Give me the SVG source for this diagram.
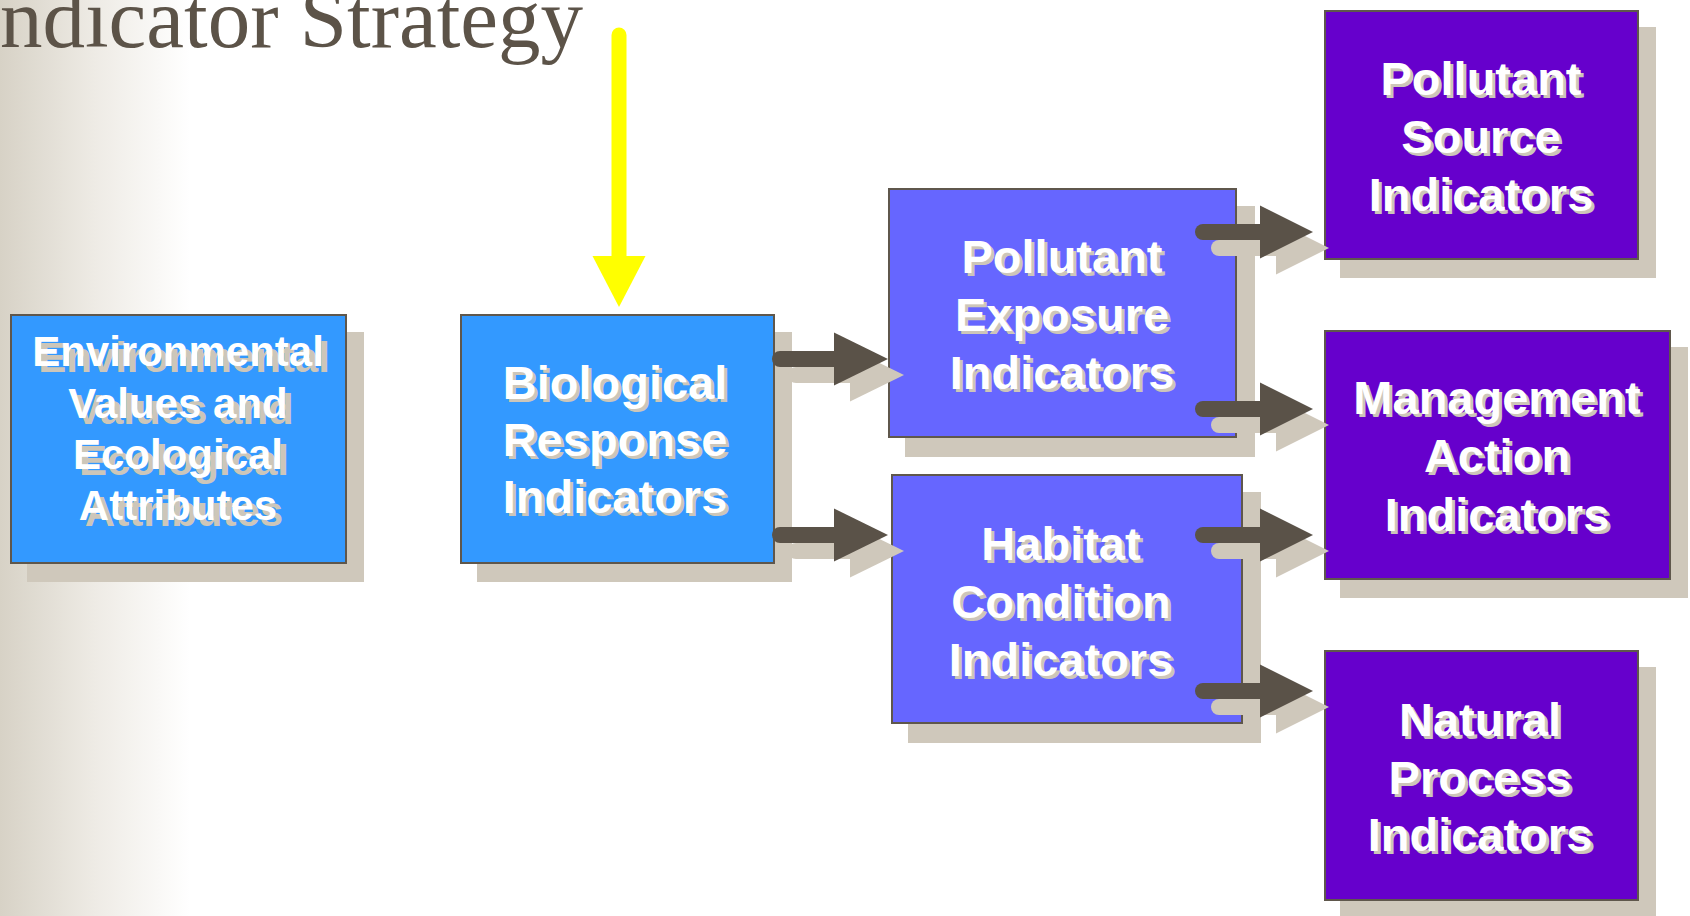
<svg xmlns="http://www.w3.org/2000/svg" width="1690" height="916" viewBox="0 0 1690 916">
  <defs>
    <linearGradient id="bg" x1="0" y1="0" x2="190" y2="0" gradientUnits="userSpaceOnUse">
      <stop offset="0" stop-color="#d7d2c6"/>
      <stop offset="0.5" stop-color="#eeebe5"/>
      <stop offset="1" stop-color="#ffffff"/>
    </linearGradient>
    <style>
      .shadow { fill: #cfc8bb; }
      .box { stroke: #5f574c; stroke-width: 2; }
      .b1 { fill: #3399ff; }
      .b2 { fill: #6666ff; }
      .b3 { fill: #6600cc; }
      .lbl { font-family: "Liberation Sans", Arial, sans-serif; font-weight: bold; font-size: 47px; text-anchor: middle; }
      .lbl.small { font-size: 42px; }
      .ts { fill: #cdc6b9; }
      .tw { fill: #ffffff; }
      .title { font-family: "Liberation Serif", "Times New Roman", serif; font-size: 85px; fill: #5c5348; }
      .aline { stroke: #5a5248; stroke-width: 16; stroke-linecap: round; fill: none; }
      .ahead { fill: #5a5248; }
      .sline { stroke: #cfc8bb; stroke-width: 16; stroke-linecap: round; fill: none; }
      .shead { fill: #cfc8bb; }
    </style>
  </defs>

  <rect x="0" y="0" width="1690" height="916" fill="#ffffff"/>
  <rect x="0" y="0" width="190" height="916" fill="url(#bg)"/>

  <text class="title" x="0" y="47">ndicator Strategy</text>

  <!-- Nodes -->
  <g id="node-env">
    <rect class="shadow" x="27" y="332" width="337" height="250"/>
    <rect class="box b1" x="11" y="315" width="335" height="248"/>
    <g class="lbl small">
      <g class="ts" transform="translate(6,6)">
        <text x="178" y="366">Environmental</text>
        <text x="178" y="418">Values and</text>
        <text x="178" y="469">Ecological</text>
        <text x="178" y="520">Attributes</text>
      </g>
      <g class="tw">
        <text x="178" y="366">Environmental</text>
        <text x="178" y="418">Values and</text>
        <text x="178" y="469">Ecological</text>
        <text x="178" y="520">Attributes</text>
      </g>
    </g>
  </g>

  <g id="node-bio">
    <rect class="shadow" x="477" y="332" width="315" height="250"/>
    <rect class="box b1" x="461" y="315" width="313" height="248"/>
    <g class="lbl">
      <g class="ts" transform="translate(3,3)">
        <text x="615" y="399">Biological</text>
        <text x="615" y="456">Response</text>
        <text x="615" y="513">Indicators</text>
      </g>
      <g class="tw">
        <text x="615" y="399">Biological</text>
        <text x="615" y="456">Response</text>
        <text x="615" y="513">Indicators</text>
      </g>
    </g>
  </g>

  <g id="node-exposure">
    <rect class="shadow" x="905" y="206" width="350" height="251"/>
    <rect class="box b2" x="889" y="189" width="347" height="248"/>
    <g class="lbl">
      <g class="ts" transform="translate(3,3)">
        <text x="1062" y="273">Pollutant</text>
        <text x="1062" y="331">Exposure</text>
        <text x="1062" y="389">Indicators</text>
      </g>
      <g class="tw">
        <text x="1062" y="273">Pollutant</text>
        <text x="1062" y="331">Exposure</text>
        <text x="1062" y="389">Indicators</text>
      </g>
    </g>
  </g>

  <g id="node-habitat">
    <rect class="shadow" x="908" y="492" width="353" height="251"/>
    <rect class="box b2" x="892" y="475" width="350" height="248"/>
    <g class="lbl">
      <g class="ts" transform="translate(3,3)">
        <text x="1061" y="560">Habitat</text>
        <text x="1061" y="618">Condition</text>
        <text x="1061" y="676">Indicators</text>
      </g>
      <g class="tw">
        <text x="1061" y="560">Habitat</text>
        <text x="1061" y="618">Condition</text>
        <text x="1061" y="676">Indicators</text>
      </g>
    </g>
  </g>

  <g id="node-source">
    <rect class="shadow" x="1340" y="27" width="316" height="251"/>
    <rect class="box b3" x="1325" y="11" width="313" height="248"/>
    <g class="lbl">
      <g class="ts" transform="translate(3,3)">
        <text x="1481" y="95">Pollutant</text>
        <text x="1481" y="153">Source</text>
        <text x="1481" y="211">Indicators</text>
      </g>
      <g class="tw">
        <text x="1481" y="95">Pollutant</text>
        <text x="1481" y="153">Source</text>
        <text x="1481" y="211">Indicators</text>
      </g>
    </g>
  </g>

  <g id="node-management">
    <rect class="shadow" x="1340" y="347" width="348" height="251"/>
    <rect class="box b3" x="1325" y="331" width="345" height="248"/>
    <g class="lbl">
      <g class="ts" transform="translate(3,3)">
        <text x="1497" y="414">Management</text>
        <text x="1497" y="472">Action</text>
        <text x="1497" y="531">Indicators</text>
      </g>
      <g class="tw">
        <text x="1497" y="414">Management</text>
        <text x="1497" y="472">Action</text>
        <text x="1497" y="531">Indicators</text>
      </g>
    </g>
  </g>

  <g id="node-natural">
    <rect class="shadow" x="1340" y="667" width="316" height="252"/>
    <rect class="box b3" x="1325" y="651" width="313" height="249"/>
    <g class="lbl">
      <g class="ts" transform="translate(3,3)">
        <text x="1480" y="736">Natural</text>
        <text x="1480" y="794">Process</text>
        <text x="1480" y="851">Indicators</text>
      </g>
      <g class="tw">
        <text x="1480" y="736">Natural</text>
        <text x="1480" y="794">Process</text>
        <text x="1480" y="851">Indicators</text>
      </g>
    </g>
  </g>

  <!-- Connectors -->
  <g id="connectors">
    <g id="connector-shadows" transform="translate(16,16)">
      <line class="sline" x1="780" y1="359" x2="838" y2="359"/>
      <polygon class="shead" points="834,332.5 888,359 834,385.5"/>
      <line class="sline" x1="780" y1="535" x2="838" y2="535"/>
      <polygon class="shead" points="834,508.5 888,535 834,561.5"/>
      <line class="sline" x1="1203" y1="232" x2="1264" y2="232"/>
      <polygon class="shead" points="1260,205.5 1313,232 1260,258.5"/>
      <line class="sline" x1="1203" y1="409" x2="1264" y2="409"/>
      <polygon class="shead" points="1260,382.5 1313,409 1260,435.5"/>
      <line class="sline" x1="1203" y1="535" x2="1264" y2="535"/>
      <polygon class="shead" points="1260,508.5 1313,535 1260,561.5"/>
      <line class="sline" x1="1203" y1="691" x2="1264" y2="691"/>
      <polygon class="shead" points="1260,664.5 1313,691 1260,717.5"/>
    </g>
    <g id="bio-to-exposure">
      <line class="aline" x1="780" y1="359" x2="838" y2="359"/>
      <polygon class="ahead" points="834,332.5 888,359 834,385.5"/>
    </g>
    <g id="bio-to-habitat">
      <line class="aline" x1="780" y1="535" x2="838" y2="535"/>
      <polygon class="ahead" points="834,508.5 888,535 834,561.5"/>
    </g>
    <g id="exposure-to-source">
      <line class="aline" x1="1203" y1="232" x2="1264" y2="232"/>
      <polygon class="ahead" points="1260,205.5 1313,232 1260,258.5"/>
    </g>
    <g id="exposure-to-management">
      <line class="aline" x1="1203" y1="409" x2="1264" y2="409"/>
      <polygon class="ahead" points="1260,382.5 1313,409 1260,435.5"/>
    </g>
    <g id="habitat-to-management">
      <line class="aline" x1="1203" y1="535" x2="1264" y2="535"/>
      <polygon class="ahead" points="1260,508.5 1313,535 1260,561.5"/>
    </g>
    <g id="habitat-to-natural">
      <line class="aline" x1="1203" y1="691" x2="1264" y2="691"/>
      <polygon class="ahead" points="1260,664.5 1313,691 1260,717.5"/>
    </g>
    <g id="yellow-arrow">
      <line x1="619" y1="35" x2="619" y2="260" stroke="#ffff00" stroke-width="15" stroke-linecap="round"/>
      <polygon points="592.5,256 645.5,256 619,307" fill="#ffff00"/>
    </g>
  </g>
</svg>
